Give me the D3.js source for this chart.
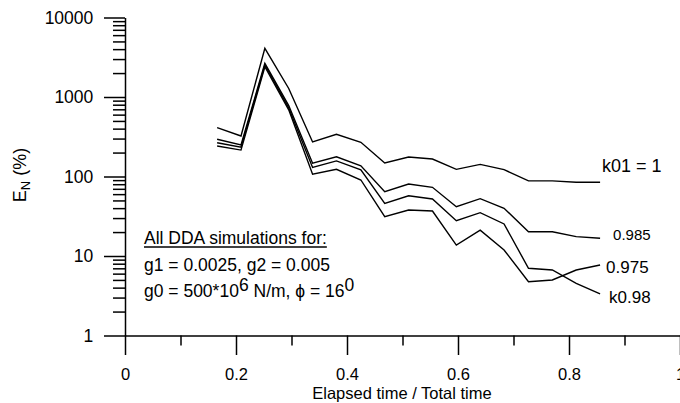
<!DOCTYPE html>
<html><head><meta charset="utf-8">
<script src="https://cdn.jsdelivr.net/npm/d3@7"></script>
<style>
body{margin:0;background:#fff}
svg{display:block}
text{font-family:"Liberation Sans",Arial,sans-serif;fill:#000}
</style>
</head><body>
<svg id="c" width="680" height="403"></svg>
<script>
// ---- data ----
const times   = [0.166,0.209,0.252,0.295,0.338,0.381,0.425,0.468,0.511,0.554,0.597,0.640,0.683,0.727,0.770,0.813,0.856];
const k1      = [411,323,4100,1280,272,340,269,148,176,166,123,142,122,88,88,84.6,84.6];
const k0985   = [294,249,2655,780,147,177,136,64.4,80.5,73.1,41.7,52.6,39.8,20.2,20.2,17.5,16.7];
const k098    = [266,233,2530,730,130,157,121,46,57.3,52.1,27.8,35.1,25.3,7.0,6.67,4.54,3.33];
const k0975   = [242,215,2405,690,107,123,90.4,31.2,37.9,36.8,13.7,21.1,11.9,4.75,4.99,6.67,7.7];
const seriesLabels = ["k01 = 1","0.985","k0.98","0.975"];
const xTickValues = [0,0.2,0.4,0.6,0.8,1];
const xTickLabels = ["0","0.2","0.4","0.6","0.8","1"];
const xMinorValues = [0.1,0.3,0.5,0.7,0.9];
const yTickValues = [1,10,100,1000,10000];
const yTickLabels = ["1","10","100","1000","10000"];

const series = [k1,k0985,k098,k0975];

const svg = d3.select("#c");
const x = d3.scaleLinear().domain([0,1]).range([125,680]);
const y = d3.scaleLog().domain([1,10000]).range([335.5,17.5]);

// minor y ticks
const yMinor = [];
[1,10,100,1000].forEach(d=>{for(let m=2;m<=9;m++) yMinor.push(d*m);});

const axW = 1.5;
// y axis minor
const gyMin = svg.append("g").attr("transform","translate(125,0)")
  .call(d3.axisLeft(y).tickValues(yMinor).tickSize(12).tickSizeOuter(0).tickFormat(""));
gyMin.select(".domain").remove();
// y axis major
const gy = svg.append("g").attr("transform","translate(125,0)")
  .call(d3.axisLeft(y).tickValues(yTickValues).tickSize(21).tickSizeOuter(0).tickPadding(10.7)
    .tickFormat((d,i)=>yTickLabels[i]));
gy.attr("font-family",null).attr("font-size",null);
gy.selectAll("text").style("font-size","17.5px");

// x axis minor
const gxMin = svg.append("g").attr("transform","translate(0,335.5)")
  .call(d3.axisBottom(x).tickValues(xMinorValues).tickSize(10).tickSizeOuter(0).tickFormat(""));
gxMin.select(".domain").remove();
// x axis major
const gx = svg.append("g").attr("transform","translate(0,335.5)")
  .call(d3.axisBottom(x).tickValues(xTickValues).tickSize(19.5).tickSizeOuter(0)
    .tickFormat((d,i)=>xTickLabels[i]));
gx.attr("font-family",null).attr("font-size",null);
gx.selectAll("text").attr("dy",null).attr("y",44.5).style("font-size","16.5px");

svg.selectAll(".domain, .tick line").attr("stroke","#000").attr("stroke-width",axW);

// axis titles
svg.append("text").attr("x",402).attr("y",399).attr("text-anchor","middle")
  .style("font-size","16.5px").text("Elapsed time / Total time");
const yt = svg.append("text").attr("transform","translate(26,175) rotate(-90)")
  .attr("text-anchor","middle").style("font-size","18px");
yt.append("tspan").text("E");
yt.append("tspan").attr("dy",4).style("font-size","13px").text("N");
yt.append("tspan").attr("dy",-4).text(" (%)");

// lines
const line = d3.line().x((d,i)=>x(times[i])).y(d=>y(d));
svg.append("g").selectAll("path").data(series).join("path")
  .attr("d",line).attr("fill","none").attr("stroke","#000").attr("stroke-width",1.4)
  .attr("stroke-linejoin","miter");

// series end labels
const lastI = times.length-1;
const labelOffsets = [[2,-10.5,18],[13,2,15],[9,9,17],[6,8,17]];
seriesLabels.forEach((s,j)=>{
  svg.append("text")
    .attr("x",x(times[lastI])+labelOffsets[j][0])
    .attr("y",y(series[j][lastI])+labelOffsets[j][1])
    .style("font-size",labelOffsets[j][2]+"px").text(s);
});

// annotation
const ax0 = 144, fs = 17.5;
const t1 = svg.append("text").attr("x",ax0).attr("y",244).style("font-size",fs+"px").text("All DDA simulations for:");
const bb = t1.node().getBBox();
svg.append("line").attr("x1",ax0).attr("x2",bb.x+bb.width).attr("y1",247).attr("y2",247)
  .attr("stroke","#000").attr("stroke-width",1.3);
svg.append("text").attr("x",ax0).attr("y",271).style("font-size",fs+"px").text("g1 = 0.0025, g2 = 0.005");
const t3 = svg.append("text").attr("x",ax0).attr("y",297).style("font-size",fs+"px");
t3.append("tspan").text("g0 = 500*10");
t3.append("tspan").attr("dy",-6).text("6");
t3.append("tspan").attr("dy",6).text(" N/m, \u03D5 = 16");
t3.append("tspan").attr("dy",-6).text("0");
</script>
</body></html>
